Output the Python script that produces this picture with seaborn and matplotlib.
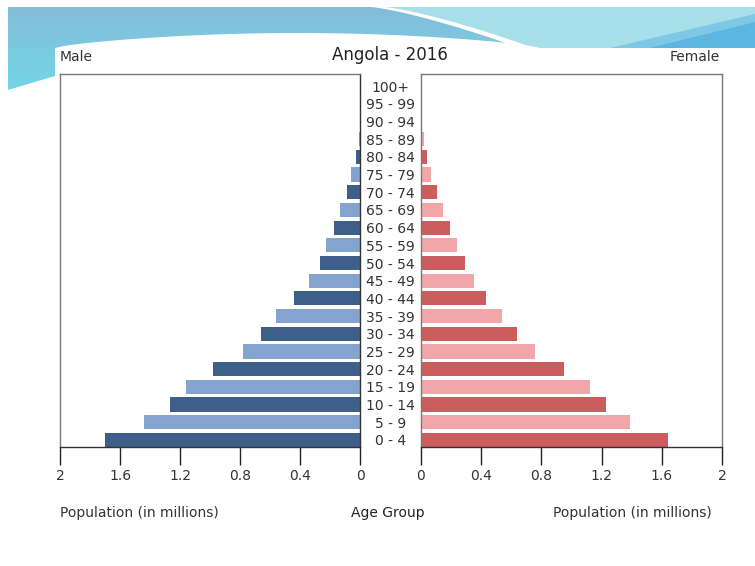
import numpy as np
import pandas as pd
import matplotlib.pyplot as plt
import seaborn as sns
from matplotlib.patches import Polygon, Rectangle

# Age groups, bottom to top
age_groups = ['0 - 4', '5 - 9', '10 - 14', '15 - 19', '20 - 24', '25 - 29', '30 - 34',
              '35 - 39', '40 - 44', '45 - 49', '50 - 54', '55 - 59', '60 - 64', '65 - 69',
              '70 - 74', '75 - 79', '80 - 84', '85 - 89', '90 - 94', '95 - 99', '100+']

# population in millions
male = [1.70, 1.44, 1.27, 1.16, 0.98, 0.78, 0.66, 0.56, 0.44, 0.34, 0.27,
        0.224, 0.176, 0.131, 0.087, 0.058, 0.029, 0.008, 0.003, 0.0015, 0.0005]
female = [1.64, 1.39, 1.23, 1.12, 0.95, 0.76, 0.64, 0.54, 0.43, 0.35, 0.29,
          0.237, 0.193, 0.149, 0.107, 0.069, 0.040, 0.018, 0.007, 0.003, 0.001]

ticks = [0, 0.4, 0.8, 1.2, 1.6, 2]
tick_labels = ['0', '0.4', '0.8', '1.2', '1.6', '2']

blue_dark, blue_light = '#3f5f8b', '#84a4cf'
red_dark, red_light = '#cc5d5f', '#f2a6aa'
male_colors = [blue_dark if i % 2 == 0 else blue_light for i in range(len(age_groups))]
female_colors = [red_dark if i % 2 == 0 else red_light for i in range(len(age_groups))]

df = pd.DataFrame({'age': age_groups, 'male': male, 'female': female})
order = age_groups[::-1]

sns.set_style('white')
plt.rcParams['font.family'] = ['DejaVu Sans']
plt.rcParams['font.size'] = 10

fig = plt.figure(figsize=(7.55, 5.66), dpi=100)

## slide decoration (banner at the top)
bg = fig.add_axes([0, 0, 1, 1], zorder=-10)
bg.set_xlim(0, 755)
bg.set_ylim(566, 0)
bg.axis('off')
grad = np.linspace(0, 1, 50)[:, None, None]
top_c = np.array([0.52, 0.74, 0.85])
bot_c = np.array([0.44, 0.85, 0.91])
img = top_c * (1 - grad) + bot_c * grad
bg.imshow(img, extent=(8, 755, 100, 7), aspect='auto', zorder=0)
# light cyan area to the right of the swoosh
xs = np.linspace(370, 520, 40)
curve = 7 + 41 * ((xs - 370) / 150) ** 1.3
bg.add_patch(Polygon(list(zip(xs + 12, curve)) + [(755, 48), (755, 7)],
                     closed=True, color='#a7e0e9', lw=0, zorder=1))
bg.add_patch(Polygon([(610, 48), (755, 14), (755, 48)], closed=True, color='#7cc8e6', lw=0, zorder=1))
bg.add_patch(Polygon([(650, 48), (755, 22), (755, 48)], closed=True, color='#5cb6df', lw=0, zorder=1))
# white swoosh
bg.add_patch(Polygon(list(zip(xs, curve)) + list(zip(xs[::-1] + 14, curve[::-1])),
                     closed=True, color='white', lw=0, zorder=2))
# white arc on the left
ax_arc = np.linspace(55, 540, 60)
arc_y = 48 - 15 * np.sin(np.pi * (ax_arc - 55) / 485) ** 0.7
bg.add_patch(Polygon(list(zip(ax_arc, arc_y)) + [(540, 110), (55, 110)],
                     closed=True, color='white', lw=0, zorder=2))
# white slide below the banner, leaving the cyan wave at the left edge
bg.add_patch(Polygon([(8, 90), (55, 76), (55, 48), (755, 48), (755, 566), (0, 566), (0, 100)],
                     closed=True, color='white', lw=0, zorder=3))
bg.add_patch(Rectangle((0, 100), 8, 466, color='white', lw=0, zorder=3))

ax_m = fig.add_axes([0.0795, 0.2102, 0.3974, 0.659])
ax_f = fig.add_axes([0.5576, 0.2102, 0.3987, 0.659])

sns.barplot(data=df, x='male', y='age', hue='age', order=order, hue_order=age_groups,
            palette=male_colors, orient='h', width=0.8, saturation=1, linewidth=0,
            legend=False, ax=ax_m)
sns.barplot(data=df, x='female', y='age', hue='age', order=order, hue_order=age_groups,
            palette=female_colors, orient='h', width=0.8, saturation=1, linewidth=0,
            legend=False, ax=ax_f)

ax_m.set_xlim(2, 0)
ax_f.set_xlim(0, 2)
for ax in (ax_m, ax_f):
    ax.set_ylim(len(age_groups) - 0.6, -0.68)
    ax.set_xticks(ticks)
    ax.set_xticklabels(tick_labels)
    ax.set_xlabel('')
    ax.set_ylabel('')
    ax.tick_params(axis='x', direction='out', length=13, width=1, color='#222222',
                   pad=3, labelsize=10, labelcolor='#333333', bottom=True)
    for s in ax.spines.values():
        s.set_color('#777777')
        s.set_linewidth(1)
    ax.spines['bottom'].set_color('#333333')

ax_m.spines['right'].set_color('#333333')
ax_m.set_yticks([])
ax_f.tick_params(axis='y', length=0, pad=22, labelsize=10, labelcolor='#333333', left=False)
for lab in ax_f.get_yticklabels():
    lab.set_horizontalalignment('center')

fig.text(0.0795, 0.899, 'Male', ha='left', va='center', fontsize=10, color='#333333')
fig.text(0.954, 0.899, 'Female', ha='right', va='center', fontsize=10, color='#333333')
fig.text(0.517, 0.902, 'Angola - 2016', ha='center', va='center', fontsize=12, color='#222222')
fig.text(0.0795, 0.094, 'Population (in millions)', ha='left', va='center', fontsize=10, color='#333333')
fig.text(0.943, 0.094, 'Population (in millions)', ha='right', va='center', fontsize=10, color='#333333')
fig.text(0.514, 0.094, 'Age Group', ha='center', va='center', fontsize=10, color='#222222')

fig.savefig('out.png', dpi=100)
